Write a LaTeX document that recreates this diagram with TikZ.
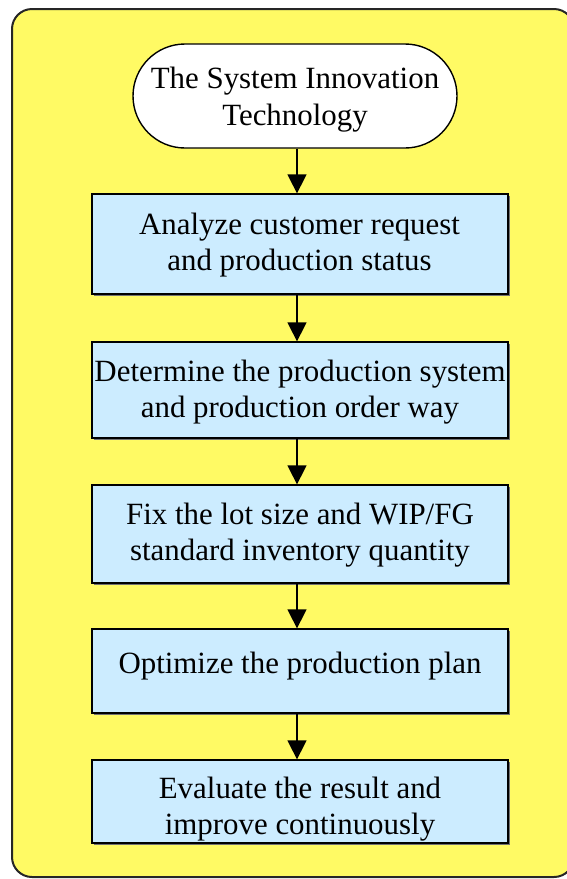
\documentclass[tikz,border=0pt]{standalone}
\usepackage{fontspec}
\setmainfont{Liberation Serif}
\usetikzlibrary{arrows.meta,shapes.misc,shadows}
\definecolor{panelyellow}{HTML}{FFFA64}
\definecolor{boxblue}{HTML}{CCECFF}
\tikzset{
  panel/.style={draw=black!85, line width=2pt, fill=panelyellow, rounded corners=20pt},
  stepbox/.style={rectangle, draw=black, line width=1.3pt, fill=boxblue, inner sep=0pt,
    minimum width=416pt,
    drop shadow={shadow xshift=1.6pt, shadow yshift=-1.6pt, fill=black!55, opacity=1}},
  startbox/.style={rounded rectangle, draw=black, line width=1.4pt, fill=white, inner sep=0pt,
    minimum width=324pt, minimum height=104pt},
  % base anchor of a multi-line label sits on its last line
  steptext/.style={align=center, inner sep=0pt, anchor=base,
    font=\fontsize{30.9}{36.5}\selectfont},
  flow/.style={line width=1.5pt, -{Triangle[width=19pt,length=19pt]}}
}
\begin{document}
\begin{tikzpicture}[x=1pt, y=-1pt]
  \clip (0,0) rectangle (567,879);
  \useasboundingbox (0,0) rectangle (567,879);
  % background panel
  \draw[panel] (12,9) rectangle (574,877);
  % column of the flow arrows
  \coordinate (ax) at (297,0);
  % start terminal
  \node[startbox] (s0) at (295,96) {};
  % process steps
  \node[stepbox, minimum height=100pt] (b1) at (300,244) {};
  \node[stepbox, minimum height=96pt]  (b2) at (300,390) {};
  \node[stepbox, minimum height=98pt]  (b3) at (300,534) {};
  \node[stepbox, minimum height=84pt]  (b4) at (300,671) {};
  \node[stepbox, minimum height=83pt]  (b5) at (300,801.5) {};
  % connectors
  \draw[flow] (s0.south -| ax) -- (b1.north -| ax);
  \draw[flow] (b1.south -| ax) -- (b2.north -| ax);
  \draw[flow] (b2.south -| ax) -- (b3.north -| ax);
  \draw[flow] (b3.south -| ax) -- (b4.north -| ax);
  \draw[flow] (b4.south -| ax) -- (b5.north -| ax);
  % labels
  \node[steptext] (s0t) at (295,125) {The System Innovation\\Technology};
  \node[steptext] (b1t) at (299.5,270.5) {Analyze customer request\\and production status};
  \node[steptext] (b2t) at (300,417.5) {Determine the production system\\and production order way};
  \node[steptext] (b3t) at (300,560.5) {Fix the lot size and WIP/FG\\standard inventory quantity};
  \node[steptext] (b4t) at (300,673) {Optimize the production plan};
  \node[steptext] (b5t) at (300,834.5) {Evaluate the result and\\improve continuously};
\end{tikzpicture}
\end{document}
